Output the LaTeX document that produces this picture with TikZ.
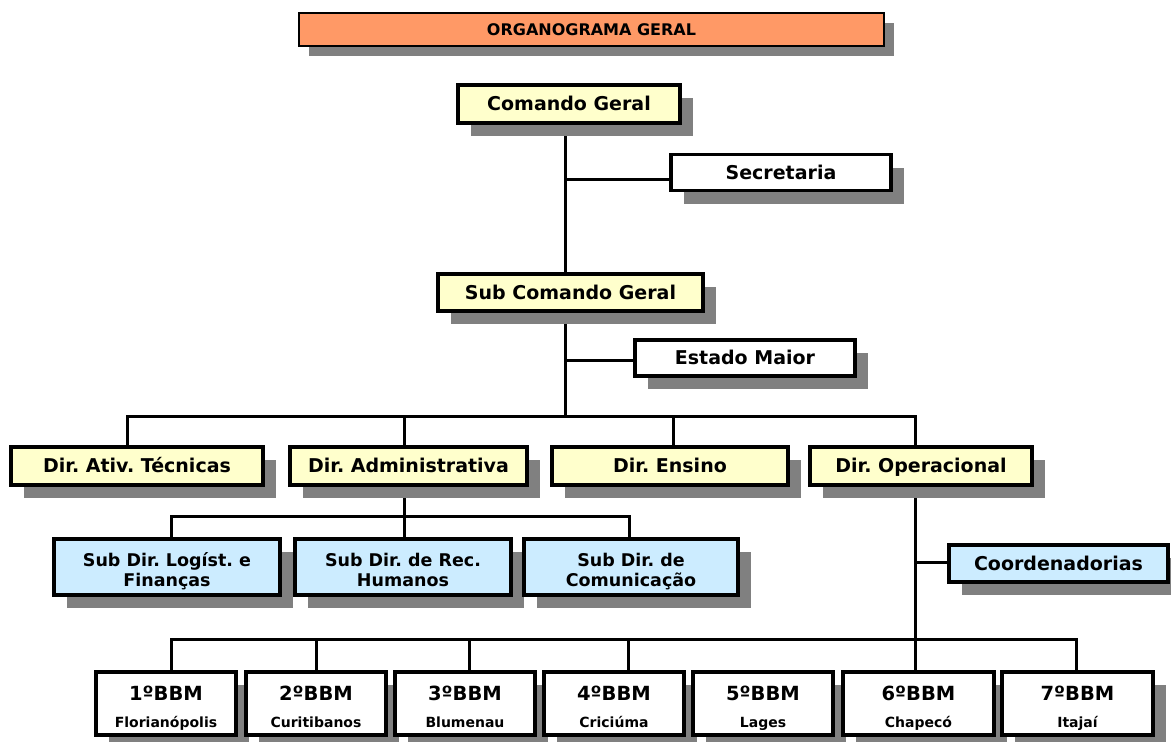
\documentclass[tikz,border=0pt]{standalone}
\usepackage{fontspec}
\setmainfont{DejaVu Sans}
\usetikzlibrary{shadows,backgrounds}
\definecolor{ybg}{HTML}{FFFFCC}
\definecolor{bbg}{HTML}{CCECFF}
\definecolor{obg}{HTML}{FF9966}
\definecolor{shd}{HTML}{808080}
\frenchspacing
\newcommand{\vstrut}{\vphantom{ÁÍgpj}}
\tikzset{
  box/.style={draw=black, line width=3.5pt, rectangle, inner sep=0pt, align=center,
    font=\frenchspacing\bfseries\fontsize{19}{22}\selectfont,
    execute at begin node=\vstrut, execute at end node=\vstrut,
    general shadow={fill=shd, shadow xshift=13pt, shadow yshift=-13pt}},
  ybox/.style={box, fill=ybg},
  wbox/.style={box, fill=white},
  bbox/.style={box, fill=bbg, font=\frenchspacing\bfseries\fontsize{17.5}{20.5}\selectfont},
  coordbox/.style={box, fill=bbg},
  bbmbox/.style={box, fill=white, font=\bfseries\fontsize{14}{27}\selectfont},
  tbox/.style={draw=black, line width=1.5pt, rectangle, inner sep=0pt, fill=obg,
    font=\bfseries\fontsize{16}{18}\selectfont,
    general shadow={fill=shd, shadow xshift=10pt, shadow yshift=-10pt}},
  conn/.style={draw=black, line width=3pt},
}
\newcommand{\bbm}[2]{\rule{0pt}{25pt}{\fontsize{19.5}{27}\selectfont #1}\\#2\vstrut}
\newcommand{\sdtxt}[2]{\rule{0pt}{23pt}#1\\#2\vstrut}
\begin{document}
\begin{tikzpicture}[x=1pt,y=-1pt]
\useasboundingbox (0,0) rectangle (1171,742);
% title
\node[tbox, minimum width=585, minimum height=33] (title) at (591.5,29.5) {ORGANOGRAMA GERAL};
% top
\node[ybox, minimum width=222, minimum height=38] (cg) at (569,104) {Comando Geral};
\node[wbox, minimum width=220, minimum height=36] (sec) at (781,172.5) {Secretaria};
\node[ybox, minimum width=265, minimum height=37] (scg) at (570.5,292.5) {Sub Comando Geral};
\node[wbox, minimum width=220, minimum height=36] (em) at (745,358) {Estado Maior};
% directorates
\node[ybox, minimum width=252, minimum height=38] (dat) at (137,466) {Dir. Ativ. Técnicas};
\node[ybox, minimum width=237, minimum height=38] (dad) at (408.5,466) {Dir. Administrativa};
\node[ybox, minimum width=236, minimum height=38] (den) at (670,466) {Dir. Ensino};
\node[ybox, minimum width=222, minimum height=38] (dop) at (921,466) {Dir. Operacional};
% sub directorates
\node[bbox, minimum width=226, minimum height=56] (sdl) at (167,567) {\sdtxt{Sub Dir. Logíst. e}{Finanças}};
\node[bbox, minimum width=216, minimum height=56] (sdr) at (403,567) {\sdtxt{Sub Dir. de Rec.}{Humanos}};
\node[bbox, minimum width=214, minimum height=56] (sdc) at (631,567) {\sdtxt{Sub Dir. de}{Comunicação}};
\node[coordbox, minimum width=219, minimum height=37] (coord) at (1058.5,563.5) {Coordenadorias};
% battalions
\node[bbmbox, minimum width=140, minimum height=63] (b1) at (166,703.5) {\bbm{1ºBBM}{Florianópolis}};
\node[bbmbox, minimum width=140, minimum height=63] (b2) at (316,703.5) {\bbm{2ºBBM}{Curitibanos}};
\node[bbmbox, minimum width=140, minimum height=63] (b3) at (465,703.5) {\bbm{3ºBBM}{Blumenau}};
\node[bbmbox, minimum width=140, minimum height=63] (b4) at (614,703.5) {\bbm{4ºBBM}{Criciúma}};
\node[bbmbox, minimum width=140, minimum height=63] (b5) at (763,703.5) {\bbm{5ºBBM}{Lages}};
\node[bbmbox, minimum width=151, minimum height=63] (b6) at (918.5,703.5) {\bbm{6ºBBM}{Chapecó}};
\node[bbmbox, minimum width=151, minimum height=63] (b7) at (1077.5,703.5) {\bbm{7ºBBM}{Itajaí}};
% coordinates for connectors
\coordinate (tA) at (565,179);
\coordinate (tB) at (565,360);
\coordinate (bus1L) at (127,416);
\coordinate (bus1R) at (915,416);
\coordinate (xdad) at (404,416);
\coordinate (xden) at (673,416);
\coordinate (bus2L) at (171,516);
\coordinate (bus2R) at (629,516);
\coordinate (tC) at (915,562);
\coordinate (bus3L) at (171,639);
\coordinate (bus3R) at (1076,639);
\coordinate (x2) at (316,639);
\coordinate (x3) at (469,639);
\coordinate (x4) at (628,639);
\begin{scope}[on background layer]
\draw[conn] (cg.south -| tA) -- (scg.north -| tA);
\draw[conn] (tA) -- (sec.west |- tA);
\draw[conn] (scg.south -| tB) -- (tB |- bus1L);
\draw[conn] (tB) -- (em.west |- tB);
\draw[conn] (dat.north -| bus1L) -- (bus1L) -- (bus1R) -- (dop.north -| bus1R);
\draw[conn] (xdad) -- (dad.north -| xdad);
\draw[conn] (xden) -- (den.north -| xden);
\draw[conn] (dad.south -| xdad) -- (xdad |- bus2L);
\draw[conn] (sdl.north -| bus2L) -- (bus2L) -- (bus2R) -- (sdc.north -| bus2R);
\draw[conn] (xdad |- bus2L) -- (sdr.north -| xdad);
\draw[conn] (dop.south -| tC) -- (b6.north -| tC);
\draw[conn] (tC) -- (coord.west |- tC);
\draw[conn] (b1.north -| bus3L) -- (bus3L) -- (bus3R) -- (b7.north -| bus3R);
\draw[conn] (x2) -- (b2.north -| x2);
\draw[conn] (x3) -- (b3.north -| x3);
\draw[conn] (x4) -- (b4.north -| x4);
\end{scope}
\end{tikzpicture}
\end{document}
